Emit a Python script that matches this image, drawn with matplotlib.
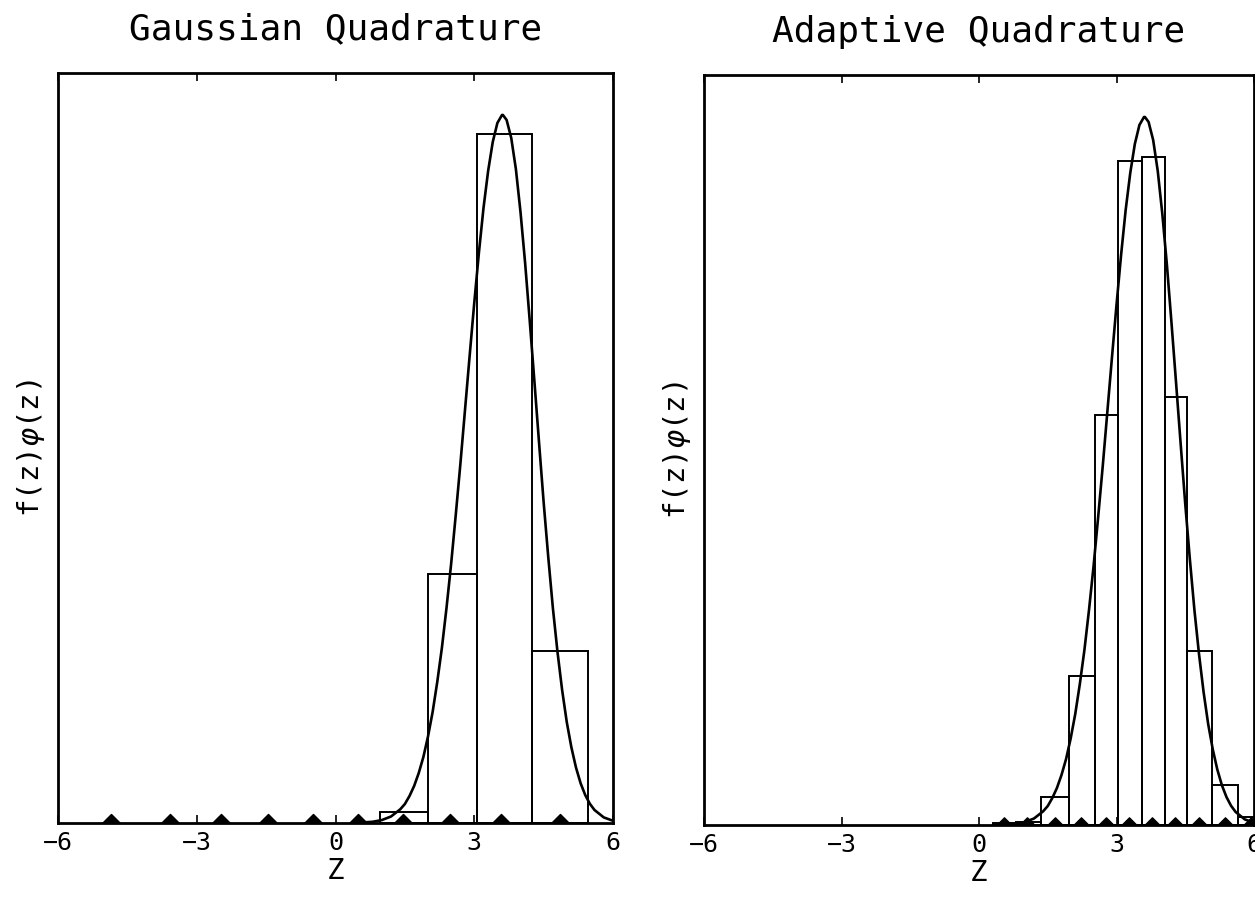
import matplotlib
matplotlib.use("Agg")
import matplotlib.pyplot as plt
from matplotlib.path import Path

# ---------------- data ----------------
titles = ["Gaussian Quadrature", "Adaptive Quadrature"]
xticks = [-6, -3, 0, 3, 6]
xlabel = "Z"
ylabel = r"f(z)$\varphi$(z)"

curve_z = [0.5, 0.8, 1.0, 1.2, 1.4, 1.5, 1.6, 1.7, 1.8, 1.9, 2.0, 2.1, 2.2, 2.3,
           2.4, 2.5, 2.6, 2.7, 2.8, 2.9, 3.0, 3.1, 3.2, 3.3, 3.4, 3.5, 3.6, 3.62,
           3.7, 3.8, 3.9, 4.0, 4.1, 4.2, 4.3, 4.4, 4.5, 4.6, 4.7, 4.8, 4.9, 5.0,
           5.1, 5.2, 5.3, 5.4, 5.5, 5.6, 5.8, 6.0, 6.2]
curve_y = [0.0003, 0.0012, 0.0029, 0.0065, 0.0137, 0.019, 0.027, 0.037, 0.050,
           0.066, 0.0865, 0.111, 0.141, 0.175, 0.215, 0.259, 0.308, 0.359, 0.413,
           0.467, 0.520, 0.570, 0.615, 0.652, 0.681, 0.700, 0.708, 0.708, 0.703,
           0.685, 0.654, 0.611, 0.560, 0.502, 0.442, 0.381, 0.321, 0.266, 0.215,
           0.171, 0.133, 0.101, 0.0757, 0.0554, 0.0397, 0.0279, 0.0192, 0.0130,
           0.0056, 0.0022, 0.0008]

gauss_nodes = [-4.86, -3.58, -2.48, -1.47, -0.48, 0.48, 1.47, 2.48, 3.58, 4.86]
gauss_bar_left = [0.97, 1.99, 3.05, 4.25]
gauss_bar_right = [1.99, 3.05, 4.25, 5.47]
gauss_bar_height = [0.011, 0.249, 0.689, 0.172]

adapt_nodes = [0.55, 1.05, 1.66, 2.23, 2.78, 3.28, 3.77, 4.28, 4.79, 5.36, 5.93]
adapt_bar_left = [0.30, 0.80, 1.36, 1.97, 2.52, 3.04, 3.55, 4.05, 4.54, 5.08, 5.65]
adapt_bar_right = [0.80, 1.36, 1.97, 2.52, 3.04, 3.55, 4.05, 4.54, 5.08, 5.65, 6.20]
adapt_bar_height = [0.002, 0.003, 0.028, 0.149, 0.410, 0.664, 0.668, 0.428,
                    0.174, 0.040, 0.008]

# ---------------- styling ----------------
plt.rcParams['font.family'] = ['DejaVu Sans Mono', 'DejaVu Sans']
plt.rcParams['mathtext.fontset'] = 'dejavusans'

W, H = 1255, 901
fig = plt.figure(figsize=(W / 100, H / 100), dpi=100)
fig.patch.set_facecolor('white')

# flat triangle marker sitting on the baseline
tri = Path([(-1.0, 0.0), (0.0, 1.0), (1.0, 0.0), (-1.0, 0.0)],
           [Path.MOVETO, Path.LINETO, Path.LINETO, Path.CLOSEPOLY])

panels = [
    dict(rect=[58 / W, (H - 823) / H, 555 / W, 750 / H], title=titles[0],
         nodes=gauss_nodes, left=gauss_bar_left, right=gauss_bar_right,
         height=gauss_bar_height, ms=13),
    dict(rect=[704 / W, (H - 825) / H, 550 / W, 750 / H], title=titles[1],
         nodes=adapt_nodes, left=adapt_bar_left, right=adapt_bar_right,
         height=adapt_bar_height, ms=11),
]

for p in panels:
    ax = fig.add_axes(p['rect'])
    widths = [r - l for l, r in zip(p['left'], p['right'])]
    ax.bar(p['left'], p['height'], width=widths, align='edge', fill=False,
           edgecolor='black', linewidth=1.4, zorder=2)
    ax.plot(curve_z, curve_y, color='black', linewidth=1.9, zorder=3)
    ax.plot(p['nodes'], [0] * len(p['nodes']), linestyle='none', marker=tri,
            markersize=p['ms'], color='black', zorder=4, clip_on=True)
    ax.set_xlim(-6, 6)
    ax.set_ylim(0, 0.75)
    ax.set_xticks(xticks)
    ax.set_xticklabels([str(t) if t >= 0 else '\u2212' + str(-t) for t in xticks])
    ax.set_yticks([])
    ax.tick_params(axis='x', direction='in', top=True, bottom=True, length=6,
                   width=1.2, labelsize=18, pad=6)
    for s in ax.spines.values():
        s.set_linewidth(2.0)
        s.set_color('black')
    ax.set_title(p['title'], fontsize=26, pad=24)
    ax.set_xlabel(xlabel, fontsize=21, labelpad=1)
    ax.set_ylabel(ylabel, fontsize=21)
    ax.yaxis.set_label_coords(-0.02, 0.5)

fig.savefig('out.png', dpi=100, facecolor='white')
